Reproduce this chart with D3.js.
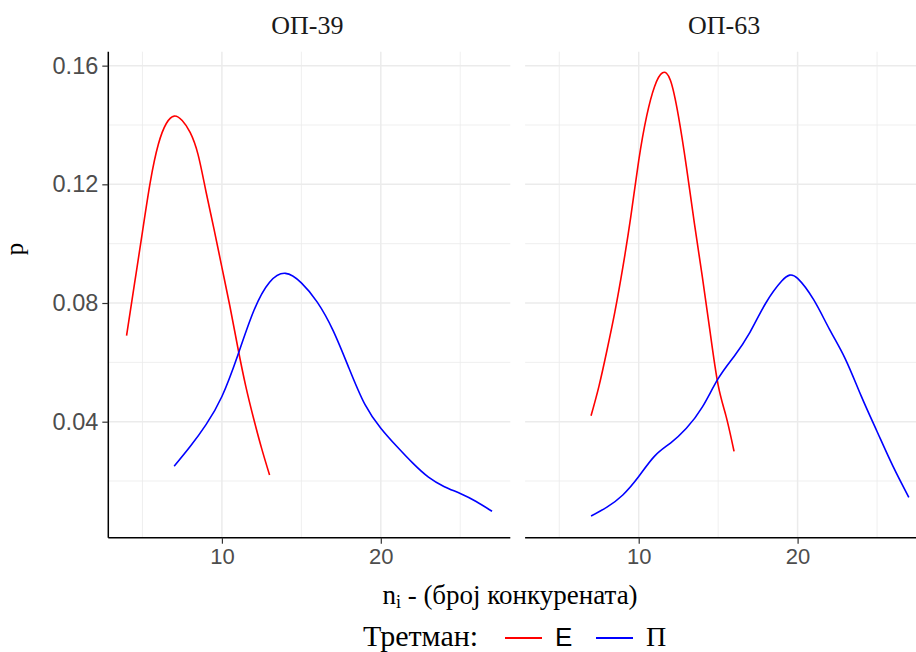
<!DOCTYPE html>
<html>
<head>
<meta charset="utf-8">
<script src="https://cdn.jsdelivr.net/npm/d3@7"></script>
<style>
  html, body { margin: 0; padding: 0; background: #ffffff; }
  svg { display: block; }
</style>
</head>
<body>
<div id="chart"></div>
<script>
// ---------------- DATA ----------------
const panelNames = ["ОП-39", "ОП-63"];
const treatments = ["Е", "П"];

// ОП-39, treatment Е
const op39E_x = [4, 4.5, 5, 5.5, 6, 6.5, 7, 7.5, 8, 8.5, 9, 9.5, 10, 10.5, 11, 11.5, 12, 12.5, 13];
const op39E_p = [0.069, 0.0865, 0.104, 0.121, 0.1335, 0.1405, 0.143, 0.1415, 0.1375, 0.130, 0.1175, 0.105, 0.092, 0.079, 0.065, 0.052, 0.041, 0.031, 0.022];

// ОП-39, treatment П
const op39P_x = [7, 8, 9, 10, 11, 12, 13, 14, 15, 16, 17, 18, 19, 20, 21, 22, 23, 24, 25, 26, 27];
const op39P_p = [0.025, 0.0316, 0.039, 0.0485, 0.0624, 0.0773, 0.087, 0.090, 0.0868, 0.0803, 0.0707, 0.058, 0.0458, 0.0378, 0.0317, 0.0261, 0.0213, 0.0181, 0.0158, 0.0131, 0.0098];

// ОП-63, treatment Е
const op63E_x = [7, 7.5, 8, 8.5, 9, 9.5, 10, 10.5, 11, 11.5, 12, 12.5, 13, 13.5, 14, 14.5, 15, 15.5, 16];
const op63E_p = [0.042, 0.052, 0.064, 0.077, 0.092, 0.109, 0.128, 0.143, 0.153, 0.1576, 0.155, 0.143, 0.126, 0.107, 0.089, 0.070, 0.0523, 0.0418, 0.030];

// ОП-63, treatment П
const op63P_x = [7, 8, 9, 10, 11, 12, 13, 14, 15, 16, 17, 18, 19, 19.5, 20, 21, 22, 23, 24, 25, 26, 27];
const op63P_p = [0.0082, 0.0112, 0.0153, 0.0215, 0.0284, 0.0328, 0.0378, 0.0449, 0.0545, 0.062, 0.0701, 0.080, 0.0874, 0.0894, 0.0883, 0.0812, 0.0712, 0.0612, 0.0487, 0.0367, 0.025, 0.0145];

const xMajorTicks = [10, 20];
const xMinorTicks = [5, 15, 25];
const yMajorTicks = [0.04, 0.08, 0.12, 0.16];
const yMinorTicks = [0.02, 0.06, 0.10, 0.14];
const yTickLabels = ["0.04", "0.08", "0.12", "0.16"];

const xTitle = "- (број конкурената)";
const yTitle = "p";
const legendTitle = "Третман:";

// ---------------- BUILD ----------------
const seriesByPanel = [
  [ {t: "Е", x: op39E_x, p: op39E_p}, {t: "П", x: op39P_x, p: op39P_p} ],
  [ {t: "Е", x: op63E_x, p: op63E_p}, {t: "П", x: op63P_x, p: op63P_p} ]
];

const W = 916, H = 652;
const serif = "'Liberation Serif', 'Times New Roman', serif";
const sans = "'Liberation Sans', Arial, sans-serif";

const svg = d3.select("#chart").append("svg")
  .attr("width", W).attr("height", H)
  .attr("viewBox", `0 0 ${W} ${H}`);

const panelLeft = [108.3, 525.1];
const panelWidth = 402;
const pTop = 51.7, pBottom = 537.7;

const color = d3.scaleOrdinal().domain(treatments).range(["#ff0000", "#0000ff"]);
const y = d3.scaleLinear().domain([0.0009, 0.1647]).range([pBottom, pTop]);

panelNames.forEach((name, i) => {
  const x = d3.scaleLinear().domain([2.85, 28.15]).range([panelLeft[i], panelLeft[i] + panelWidth]);
  const g = svg.append("g");

  // minor grid
  g.selectAll(".vminor").data(xMinorTicks).enter().append("line")
    .attr("x1", d => x(d)).attr("x2", d => x(d)).attr("y1", pTop).attr("y2", pBottom)
    .attr("stroke", "#ebebeb").attr("stroke-width", 0.8);
  g.selectAll(".hminor").data(yMinorTicks).enter().append("line")
    .attr("x1", panelLeft[i]).attr("x2", panelLeft[i] + panelWidth).attr("y1", d => y(d)).attr("y2", d => y(d))
    .attr("stroke", "#ebebeb").attr("stroke-width", 0.8);
  // major grid
  g.selectAll(".vmajor").data(xMajorTicks).enter().append("line")
    .attr("x1", d => x(d)).attr("x2", d => x(d)).attr("y1", pTop).attr("y2", pBottom)
    .attr("stroke", "#ebebeb").attr("stroke-width", 1.5);
  g.selectAll(".hmajor").data(yMajorTicks).enter().append("line")
    .attr("x1", panelLeft[i]).attr("x2", panelLeft[i] + panelWidth).attr("y1", d => y(d)).attr("y2", d => y(d))
    .attr("stroke", "#ebebeb").attr("stroke-width", 1.5);

  // curves
  const line = d3.line().x(d => x(d[0])).y(d => y(d[1])).curve(d3.curveNatural);
  seriesByPanel[i].forEach(s => {
    const pts = s.x.map((v, k) => [v, s.p[k]]);
    g.append("path").attr("d", line(pts))
      .attr("fill", "none").attr("stroke", color(s.t)).attr("stroke-width", 1.6)
      .attr("stroke-linejoin", "round").attr("stroke-linecap", "butt");
  });

  // x axis
  const xAxis = d3.axisBottom(x).tickValues(xMajorTicks).tickSize(6).tickPadding(5).tickFormat(d3.format("d"));
  const ax = g.append("g").attr("transform", `translate(0,${pBottom})`).call(xAxis);
  ax.select(".domain").attr("d", `M${panelLeft[i]},0H${panelLeft[i] + panelWidth}`).attr("stroke", "#000").attr("stroke-width", 1.5);
  ax.selectAll(".tick line").attr("stroke", "#333333").attr("stroke-width", 1.2);
  ax.selectAll(".tick text").attr("fill", "#4d4d4d").style("font-family", sans).style("font-size", "22px");

  // y axis only on first panel
  if (i === 0) {
    const yAxis = d3.axisLeft(y).tickValues(yMajorTicks).tickSize(6).tickPadding(4)
      .tickFormat((d, k) => yTickLabels[k]);
    const ay = g.append("g").attr("transform", `translate(${panelLeft[i]},0)`).call(yAxis);
    ay.select(".domain").attr("d", `M0,${pTop}V${pBottom}`).attr("stroke", "#000").attr("stroke-width", 1.5);
    ay.selectAll(".tick line").attr("stroke", "#333333").attr("stroke-width", 1.2);
    ay.selectAll(".tick text").attr("fill", "#4d4d4d").style("font-family", sans).style("font-size", "23.5px");
  }

  // strip title
  svg.append("text").attr("x", panelLeft[i] + panelWidth / 2 - 2).attr("y", 34)
    .attr("text-anchor", "middle").style("font-family", serif).style("font-size", "26px")
    .attr("fill", "#1a1a1a").text(name);
});

// x title with subscript
const xt = svg.append("text").attr("x", 510).attr("y", 604).attr("text-anchor", "middle")
  .style("font-family", serif).style("font-size", "27px").attr("fill", "#000");
xt.append("tspan").text("n");
xt.append("tspan").attr("dy", 4).style("font-size", "18px").text("i");
xt.append("tspan").attr("dy", -4).text(" " + xTitle);

// y title
svg.append("text").attr("transform", `translate(23,249) rotate(-90)`).attr("text-anchor", "middle")
  .style("font-family", serif).style("font-size", "25px").attr("fill", "#000").text(yTitle);

// legend
const lg = svg.append("g");
const legendBase = 646;
lg.append("text").attr("x", 363).attr("y", legendBase).style("font-family", serif).style("font-size", "30px")
  .attr("fill", "#000").text(legendTitle);
const legendItems = [
  {t: treatments[0], x0: 505, font: sans, size: "26px"},
  {t: treatments[1], x0: 596, font: serif, size: "28px"}
];
legendItems.forEach(it => {
  lg.append("line").attr("x1", it.x0).attr("x2", it.x0 + 37).attr("y1", legendBase - 8).attr("y2", legendBase - 8)
    .attr("stroke", color(it.t)).attr("stroke-width", 2);
  lg.append("text").attr("x", it.x0 + 50).attr("y", legendBase).style("font-family", it.font).style("font-size", it.size)
    .attr("fill", "#000").text(it.t);
});
</script>
</body>
</html>
